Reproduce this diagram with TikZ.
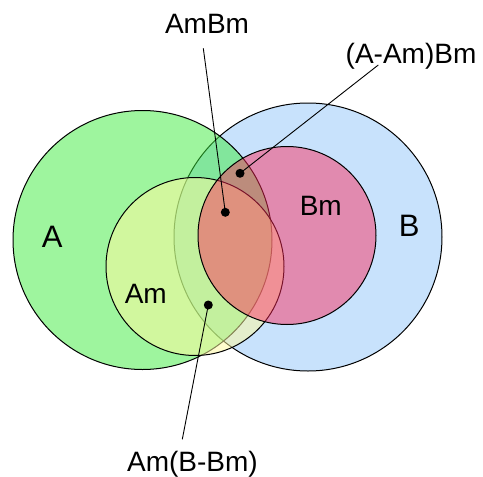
\documentclass[tikz,border=0pt]{standalone}
\usepackage{fontspec}
\setmainfont{Liberation Sans}
\definecolor{cA}{RGB}{61,235,61}
\definecolor{cB}{RGB}{200,226,252}
\definecolor{cAm}{RGB}{255,250,160}
\definecolor{cBm}{RGB}{255,40,90}
\tikzset{
  setcirc/.style={draw=black, line width=1pt},
  lbl/.style={inner sep=0pt, anchor=base, font=\fontsize{28}{34}\selectfont},
  biglbl/.style={inner sep=0pt, anchor=base, font=\fontsize{31}{37}\selectfont},
  dotnode/.style={circle, fill=black, inner sep=0pt, minimum size=9pt},
  leader/.style={draw=black, line width=0.9pt}
}
\begin{document}
\begin{tikzpicture}[x=1pt,y=-1pt]
\useasboundingbox (0,0) rectangle (483,477);
% sets
\path[setcirc, fill=cB] (308,237) circle[radius=134];
\path[setcirc, fill=cA, fill opacity=0.5] (142.5,240) circle[radius=129.5];
\path[setcirc, fill=cAm, fill opacity=0.52] (195,266.5) circle[radius=89];
\path[setcirc, fill=cBm, fill opacity=0.47] (287,235.5) circle[radius=89];
% region labels
\node[biglbl] (lA) at (52.2,247.3) {A};
\node[biglbl] (lB) at (409.3,236.7) {B};
\node[lbl] (lBm) at (320.8,215) {Bm};
\node[lbl] (lAm) at (145.8,303.3) {Am};
% dots
\node[dotnode] (d1) at (225.3,212.3) {};
\node[dotnode] (d2) at (240,173.3) {};
\node[dotnode] (d3) at (208.3,305) {};
% outer labels
\node[lbl] (t1) at (207,33.3) {AmBm};
\node[lbl] (t2) at (411,63.3) {(A-Am)Bm};
\node[lbl] (t3) at (192.5,471.5) {Am(B-Bm)};
\coordinate (e1) at (203.3,48.3);
\coordinate (e2) at (378.3,65);
\coordinate (e3) at (182.3,439.3);
\draw[leader] (e1) -- (d1.center);
\draw[leader] (e2) -- (d2.center);
\draw[leader] (d3.center) -- (e3);
\end{tikzpicture}
\end{document}
